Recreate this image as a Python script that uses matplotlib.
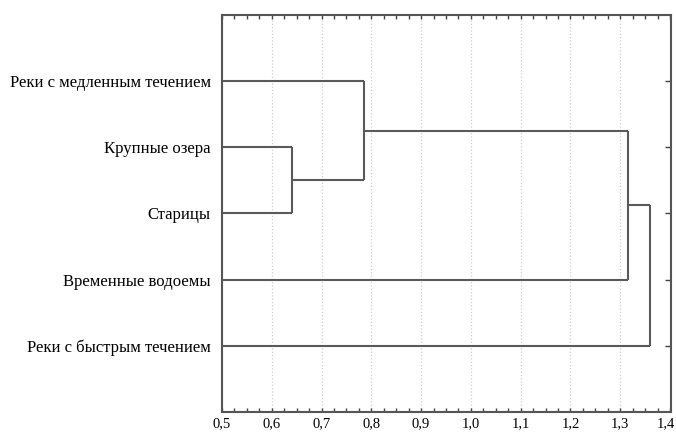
import matplotlib
matplotlib.use('Agg')
import matplotlib.pyplot as plt
import matplotlib.ticker as ticker
import matplotlib.transforms as mtransforms

# leaves from top to bottom
leaves = ['Реки с медленным течением', 'Крупные озера', 'Старицы',
          'Временные водоемы', 'Реки с быстрым течением']
# merges: pairs of cluster ids (0-4 leaves, 5+ new clusters) and linkage distance
merges = [(1, 2), (0, 5), (6, 3), (7, 4)]
heights = [0.640, 0.786, 1.316, 1.359]
x_ticks = [0.5, 0.6, 0.7, 0.8, 0.9, 1.0, 1.1, 1.2, 1.3, 1.4]

plt.rcParams['font.family'] = ['Liberation Serif', 'DejaVu Serif']

fig = plt.figure(figsize=(6.76, 4.32), dpi=100)
ax = fig.add_axes([0.3284, 0.046, 0.6642, 0.9196])

xmin, xmax = 0.5, 1.402
line_kw = dict(color='#5a5a5a', lw=1.5, solid_capstyle='butt')

# position (y) and height (x) of every cluster
pos = {i: float(i) for i in range(len(leaves))}
hgt = {i: xmin for i in range(len(leaves))}
for k, (a, b) in enumerate(merges):
    h = heights[k]
    ax.plot([hgt[a], h], [pos[a], pos[a]], **line_kw)
    ax.plot([hgt[b], h], [pos[b], pos[b]], **line_kw)
    ax.plot([h, h], [pos[a], pos[b]], **line_kw)
    new = len(leaves) + k
    pos[new] = (pos[a] + pos[b]) / 2
    hgt[new] = h

ax.set_xlim(xmin, xmax)
ax.set_ylim(len(leaves), -1)

ax.set_xticks(x_ticks)
ax.xaxis.set_major_formatter(ticker.FuncFormatter(lambda v, p: f'{v:.1f}'.replace('.', ',')))
ax.xaxis.set_minor_locator(ticker.MultipleLocator(0.025))
ax.tick_params(axis='x', which='both', direction='in', top=True, bottom=True,
               length=3, width=1, color='#444444', pad=4, labelsize=10.5)

ax.set_yticks(range(len(leaves)))
ax.set_yticklabels(leaves, fontsize=12)
ax.tick_params(axis='y', direction='in', left=False, right=True, length=4,
               width=1, color='#444444', pad=8)

ax.grid(axis='x', color='#cfcfcf', linestyle=':', lw=0.9)
for s in ax.spines.values():
    s.set_color('#555555')
    s.set_linewidth(1.5)

# keep the last tick label inside the figure
fig.canvas.draw()
last = ax.get_xticklabels()[-1]
last.set_transform(last.get_transform() +
                   mtransforms.ScaledTranslation(-4 / 100, 0, fig.dpi_scale_trans))

fig.savefig('out.png', dpi=100)
